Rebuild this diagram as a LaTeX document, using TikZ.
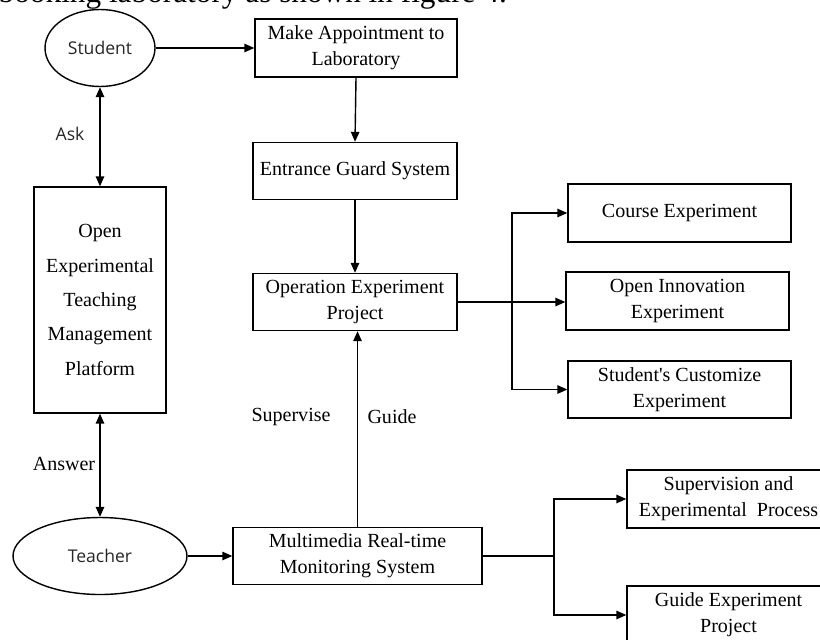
\documentclass[tikz,border=0pt]{standalone}
\usepackage{fontspec}
\setmainfont{Liberation Serif}
\newfontfamily\labelsans{Open Sans}
\usepackage{tikz}
\usetikzlibrary{arrows.meta,shapes.geometric}

\tikzset{
	box/.style={draw,rectangle,inner sep=0pt,align=center,font=\fontsize{11.4}{14.8}\selectfont},
	actor/.style={draw,ellipse,inner sep=0pt,font=\labelsans\fontsize{10}{12}\selectfont,text=black!85},
	flow/.style={-{Triangle[length=0.2cm,width=0.17cm]}},
	twoway/.style={{Triangle[length=0.2cm,width=0.17cm]}-{Triangle[length=0.2cm,width=0.17cm]}}
}

\begin{document}
\begin{tikzpicture}[x=0.02cm,y=-0.02cm]
				\useasboundingbox (0,0) rectangle (820,639);
				\begin{scope}[line width=0.8pt]

					% line of the page above the figure
					\node [anchor=base west,inner sep=0pt,font=\fontsize{17.8}{20}\selectfont] (pagetext) at (-2,3) {booking laboratory as shown in figure 4.};

					\node [actor,minimum width=2.2cm,minimum height=1.54cm] (student) at (100,48) {Student};
					\node [actor,minimum width=3.48cm,minimum height=1.54cm] (teacher) at (100,556) {Teacher};
					\node [box,minimum width=2.64cm,minimum height=4.52cm,font=\fontsize{11.4}{19.6}\selectfont] (platform) at (100,300) {Open\\Experimental\\Teaching\\Management\\Platform};

					\node [box,minimum width=4.04cm,minimum height=1.16cm] (appoint) at (356,48) {Make Appointment to\\Laboratory};
					\node [box,minimum width=4.08cm,minimum height=1.14cm] (guard) at (355,171) {Entrance Guard System};
					\node [box,minimum width=4.08cm,minimum height=1.14cm] (operation) at (355,302) {Operation Experiment\\Project};
					\node [box,minimum width=4.98cm,minimum height=1.14cm] (monitor) at (357.5,556) {Multimedia Real-time\\Monitoring System};

					\node [box,minimum width=4.46cm,minimum height=1.16cm] (course) at (679.5,213) {Course Experiment};
					\node [box,minimum width=4.46cm,minimum height=1.16cm] (innovation) at (677.5,301) {Open Innovation\\Experiment};
					\node [box,minimum width=4.46cm,minimum height=1.14cm] (customize) at (679.5,389.5) {Student\textquotesingle s Customize\\Experiment};

					\node [box,minimum width=4.06cm,minimum height=1.16cm] (supervision) at (728.5,499) {Supervision and\\Experimental\ \ Process};
					\node [box,minimum width=4.06cm,minimum height=1.16cm] (guideproj) at (728.5,615) {Guide Experiment\\Project};

					\coordinate (opsplit) at (512,302);
					\coordinate (monsplit) at (554,556);

					\draw [flow] (student.east) -- (appoint.west);
					\draw [flow] (appoint.south) -- (guard.north);
					\draw [flow] (guard.south) -- (operation.north);
					\draw [flow] (monitor.north) -- (monitor.north |- operation.south);
					\draw [twoway] (student.south) -- (platform.north);
					\draw [twoway] (platform.south) -- (teacher.north);
					\draw [flow] (teacher.east) -- (monitor.west);

					\draw (operation.east) -- (opsplit);
					\draw [flow] (opsplit) -- (opsplit -| innovation.west);
					\foreach \target in {course,customize}{%
							\draw [flow] (opsplit) |- (\target.west);
						}

					\draw (monitor.east) -- (monsplit);
					\foreach \target in {supervision,guideproj}{%
							\draw [flow] (monsplit) |- (\target.west);
						}

					\node [font=\labelsans\fontsize{10}{12}\selectfont,text=black!85] (asklabel) at (70,134) {Ask};
					\node [font=\fontsize{11.4}{14}\selectfont] (answerlabel) at (64,464) {Answer};
					\node [font=\fontsize{11.4}{14}\selectfont] (supervlabel) at (291,417) {Supervise};
					\node [font=\fontsize{11.4}{14}\selectfont] (guidelabel) at (392,417) {Guide};
				\end{scope}
			\end{tikzpicture}
\end{document}
